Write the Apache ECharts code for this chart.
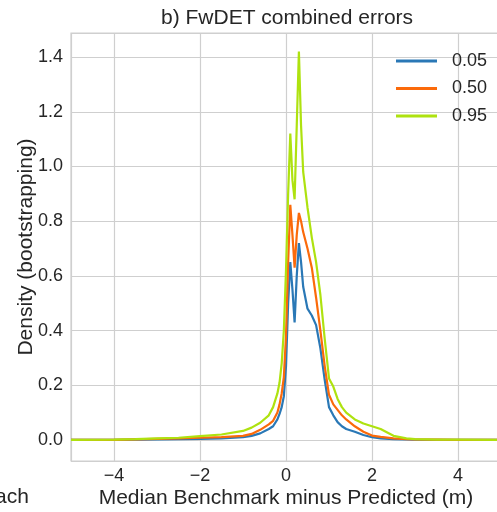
<!DOCTYPE html>
<html>
<head>
<meta charset="utf-8">
<script src="https://cdn.jsdelivr.net/npm/echarts@6/dist/echarts.min.js"></script>
<style>html,body{margin:0;padding:0;background:#fff;}#c{width:497px;height:512px;}</style>
</head>
<body>
<div id="c"></div>
<script>
const xValues = [-5.0, -4.0, -3.5, -3.0, -2.5, -2.0, -1.5, -1.0, -0.8, -0.6, -0.4, -0.3, -0.2, -0.15, -0.1, -0.05, 0.0, 0.05, 0.1, 0.15, 0.2, 0.25, 0.3, 0.35, 0.4, 0.5, 0.6, 0.7, 0.8, 0.9, 1.0, 1.1, 1.2, 1.3, 1.4, 1.6, 1.8, 2.0, 2.2, 2.5, 2.8, 3.0, 3.5, 4.0, 5.0];
const q05 = [0, 0, 0.001, 0.002, 0.003, 0.004, 0.006, 0.010, 0.015, 0.024, 0.040, 0.050, 0.075, 0.095, 0.12, 0.16, 0.27, 0.50, 0.65, 0.55, 0.43, 0.60, 0.72, 0.65, 0.56, 0.48, 0.455, 0.42, 0.335, 0.22, 0.12, 0.09, 0.065, 0.05, 0.04, 0.03, 0.018, 0.01, 0.006, 0.003, 0.002, 0.001, 0, 0, 0];
const q50 = [0, 0, 0.002, 0.004, 0.006, 0.008, 0.010, 0.015, 0.022, 0.037, 0.057, 0.07, 0.10, 0.13, 0.17, 0.23, 0.38, 0.65, 0.86, 0.75, 0.63, 0.75, 0.83, 0.80, 0.76, 0.70, 0.63, 0.52, 0.40, 0.27, 0.165, 0.13, 0.11, 0.09, 0.075, 0.05, 0.03, 0.016, 0.011, 0.006, 0.003, 0.002, 0.001, 0, 0];
const q95 = [0, 0.001, 0.003, 0.006, 0.008, 0.014, 0.02, 0.033, 0.045, 0.063, 0.09, 0.12, 0.17, 0.21, 0.28, 0.40, 0.62, 0.90, 1.12, 0.95, 0.88, 1.15, 1.42, 1.15, 0.98, 0.85, 0.74, 0.65, 0.53, 0.37, 0.225, 0.195, 0.15, 0.12, 0.10, 0.075, 0.06, 0.05, 0.04, 0.015, 0.006, 0.003, 0.001, 0.001, 0];
const seriesNames = ['0.05', '0.50', '0.95'];
const seriesColors = ['#2a78b6', '#fb6a0a', '#aee20f'];
const seriesValues = [q05, q50, q95];

const chart = echarts.init(document.getElementById('c'), null, {renderer: 'canvas'});
const txt = '#262626';
const gridCol = '#cfcfcf';
function minus(v){ return v < 0 ? '\u2212' + String(Math.abs(v)) : String(v); }
const option = {
  animation: false,
  backgroundColor: '#fff',
  title: {
    text: 'b) FwDET combined errors',
    left: 156, top: 3,
    textStyle: {fontFamily: 'Liberation Sans', fontSize: 21, fontWeight: 'normal', color: txt}
  },
  legend: {
    left: 391, top: 46, orient: 'vertical', itemWidth: 41, itemHeight: 3, itemGap: 7.5,
    icon: 'rect',
    data: seriesNames,
    textStyle: {fontFamily: 'Liberation Sans', fontSize: 18, color: txt, lineHeight: 20, padding: [0,0,0,10]}
  },
  grid: {left: 71, top: 33, right: -4, bottom: 51, show: true, borderColor: gridCol, borderWidth: 1.2,
    containLabel: false, outerBoundsMode: 'none'},
  xAxis: {
    type: 'value', min: -5, max: 5,
    name: 'Median Benchmark minus Predicted (m)', nameLocation: 'middle', nameGap: 27, nameMoveOverlap: false,
    nameTextStyle: {fontFamily: 'Liberation Sans', fontSize: 21, color: txt},
    axisLine: {show: false}, axisTick: {show: false},
    axisLabel: {fontFamily: 'Liberation Sans', fontSize: 18, color: txt, margin: 6,
      formatter: v => (Math.abs(v/2 - Math.round(v/2)) < 1e-6 ? minus(Math.round(v)) : '')},
    splitLine: {show: true, lineStyle: {color: gridCol, width: 1.2}}
  },
  yAxis: {
    type: 'value', min: -0.077, max: 1.488, splitNumber: 8,
    name: 'Density (bootstrapping)', nameLocation: 'middle', nameGap: 34, nameMoveOverlap: false,
    nameTextStyle: {fontFamily: 'Liberation Sans', fontSize: 21, color: txt},
    axisLine: {show: false}, axisTick: {show: false},
    axisLabel: {fontFamily: 'Liberation Sans', fontSize: 18, color: txt, margin: 8,
      formatter: v => (Math.abs(v*5 - Math.round(v*5)) < 1e-6 ? (Math.round(v*5)/5).toFixed(1) : '')},
    splitLine: {show: true, lineStyle: {color: gridCol, width: 1.2}}
  },
  graphic: [{
    type: 'text', left: -5, top: 487,
    style: {text: 'ach', fontFamily: 'Liberation Sans', fontSize: 21, fill: txt}
  }],
  series: seriesNames.map((n, i) => ({
    name: n, type: 'line', symbol: 'none', smooth: false,
    color: seriesColors[i],
    lineStyle: {width: 2.2, color: seriesColors[i]},
    data: xValues.map((x, j) => [x, seriesValues[i][j]])
  }))
};
chart.setOption(option);
</script>
</body>
</html>
